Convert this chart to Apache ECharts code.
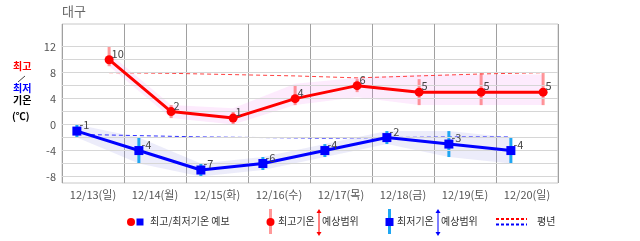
<!DOCTYPE html>
<html><head><meta charset="utf-8">
<script src="https://cdn.jsdelivr.net/npm/echarts@6/dist/echarts.min.js"></script>
<style>html,body{margin:0;padding:0;background:#fff}#c{width:640px;height:241px}</style>
</head><body><div id="c"></div>
<script>
// ---- data ----
const days = ['12/13(일)','12/14(월)','12/15(화)','12/16(수)','12/17(목)','12/18(금)','12/19(토)','12/20(일)'];
const maxTemp = [10, 2, 1, 4, 6, 5, 5, 5];
const maxRangeLow = [9, 1, 0, 3, 5, 3, 3, 3];
const maxRangeHigh = [12, 3, 2, 6, 7, 7, 8, 8];
const maxBandLow = [9, 1, 0, 3, 4.2, 3, 3, 3];
const maxBandHigh = [11, 3, 2.5, 6.3, 7.2, 7.7, 7.7, 7.7];
const minTemp = [-1, -4, -7, -6, -4, -2, -3, -4];
const minRangeLow = [-2, -6, -8, -7, -5, -3, -5, -6];
const minRangeHigh = [0, -2, -6, -5, -3, -1, -1, -2];
const normalMax = [8.0, 7.9, 7.7, 7.5, 7.2, 7.5, 7.8, 8.0];
const normalMin = [-1.5, -1.7, -1.9, -2.0, -2.1, -2.0, -1.9, -1.9];
const yTickLabels = [-8, -4, 0, 4, 8, 12];
const yGridValues = [-8, -6, -4, -2, 0, 2, 4, 6, 8, 10, 12];

// ---- style constants ----
const FONT = '"Noto Sans CJK KR", "Noto Sans", sans-serif';
const MIN_POS = 0.24, MAX_POS = 0.76;   // position of morning-low / afternoon-high inside a day band
const RED = '#ff0000', BLUE = '#0000ff';

const xs = (arr, pos) => arr.map((v, i) => [i + pos, v]);
// band segments: [x0, lo0, hi0, x1, lo1, hi1]
const segs = (lo, hi, pos) => lo.slice(0, -1).map((v, i) => [i + pos, v, hi[i], i + 1 + pos, lo[i + 1], hi[i + 1]]);

function bandItem(color) {
  return function (params, api) {
    const a = api.coord([api.value(0), api.value(2)]);
    const b = api.coord([api.value(3), api.value(5)]);
    const c = api.coord([api.value(3), api.value(4)]);
    const d = api.coord([api.value(0), api.value(1)]);
    return { type: 'polygon', shape: { points: [a, b, c, d] }, style: { fill: color } };
  };
}
function errorBar(color) {
  return function (params, api) {
    const x = api.value(0);
    const p1 = api.coord([x, api.value(1)]);
    const p2 = api.coord([x, api.value(2)]);
    return { type: 'line', shape: { x1: p1[0], y1: p1[1], x2: p2[0], y2: p2[1] },
             style: { stroke: color, lineWidth: 3 } };
  };
}

const chart = echarts.init(document.getElementById('c'), null, { renderer: 'canvas' });
const option = {
  animation: false,
  textStyle: { fontFamily: FONT },
  grid: { left: 62, top: 24, width: 496, height: 159, show: true, borderColor: '#c8c8c8', borderWidth: 1, containLabel: false },
  xAxis: [
    { type: 'category', data: days, boundaryGap: true,
      axisLine: { show: false }, axisTick: { show: false },
      axisLabel: { color: '#555', fontSize: 11, margin: 6, interval: 0, fontFamily: FONT },
      splitLine: { show: true, interval: 0, lineStyle: { color: '#a0a0a0', width: 1 } } },
    { type: 'value', min: 0, max: days.length, show: false }
  ],
  yAxis: { type: 'value', min: -9, max: 15.5,
    axisLine: { show: false }, axisTick: { show: false }, splitLine: { show: false },
    axisLabel: { customValues: yTickLabels, color: '#555', fontSize: 11, margin: 6, fontFamily: FONT } },
  series: [
    // gridlines
    { type: 'line', xAxisIndex: 1, data: [], z: 0, silent: true,
      markLine: { silent: true, symbol: 'none', label: { show: false },
        lineStyle: { color: '#d6d6d6', type: 'solid', width: 1 },
        data: yGridValues.map(v => ({ yAxis: v })) } },
    // bands
    { type: 'custom', xAxisIndex: 1, z: 1, silent: true, renderItem: bandItem('rgba(240,120,240,0.15)'),
      encode: { x: [0, 3], y: [1, 2, 4, 5] }, data: segs(maxBandLow, maxBandHigh, MAX_POS) },
    { type: 'custom', xAxisIndex: 1, z: 1, silent: true, renderItem: bandItem('rgba(110,110,220,0.13)'),
      encode: { x: [0, 3], y: [1, 2, 4, 5] }, data: segs(minRangeLow, minRangeHigh, MIN_POS) },
    // normals
    { type: 'line', xAxisIndex: 1, data: xs(normalMax, MAX_POS), symbol: 'none', z: 3,
      lineStyle: { color: '#ff4040', width: 1, type: [4, 3] } },
    { type: 'line', xAxisIndex: 1, data: xs(normalMin, MIN_POS), symbol: 'none', z: 3,
      lineStyle: { color: '#3030ff', width: 1, type: [4, 3] } },
    // error bars
    { type: 'custom', xAxisIndex: 1, z: 4, renderItem: errorBar('rgba(255,70,70,0.55)'),
      encode: { x: 0, y: [1, 2] }, data: maxTemp.map((v, i) => [i + MAX_POS, maxRangeLow[i], maxRangeHigh[i]]) },
    { type: 'custom', xAxisIndex: 1, z: 4, renderItem: errorBar('#1ea6f2'),
      encode: { x: 0, y: [1, 2] }, data: minTemp.map((v, i) => [i + MIN_POS, minRangeLow[i], minRangeHigh[i]]) },
    // main lines
    { type: 'line', xAxisIndex: 1, data: xs(maxTemp, MAX_POS), z: 5,
      symbol: 'circle', symbolSize: 9, itemStyle: { color: RED }, lineStyle: { color: RED, width: 3 },
      label: { show: true, position: 'right', distance: -2, offset: [0, -6], color: '#444', fontSize: 11, fontFamily: FONT } },
    { type: 'line', xAxisIndex: 1, data: xs(minTemp, MIN_POS), z: 5,
      symbol: 'rect', symbolSize: 9, itemStyle: { color: BLUE }, lineStyle: { color: BLUE, width: 3 },
      label: { show: true, position: 'right', distance: -2, offset: [0, -6], color: '#444', fontSize: 11, fontFamily: FONT } }
  ],
  graphic: [
    { type: 'text', left: 62, top: 5, style: { text: '대구', fill: '#666', font: '13px ' + FONT } },
    { type: 'text', left: 13, top: 61, style: { text: '최고', fill: RED, font: 'bold 10px ' + FONT } },
    { type: 'line', shape: { x1: 18, y1: 82, x2: 25, y2: 76 }, style: { stroke: '#444', lineWidth: 1 } },
    { type: 'text', left: 13, top: 83, style: { text: '최저', fill: BLUE, font: 'bold 10px ' + FONT } },
    { type: 'text', left: 13, top: 95, style: { text: '기온', fill: '#000', font: 'bold 10px ' + FONT } },
    { type: 'text', left: 12, top: 111, style: { text: '(℃)', fill: '#000', font: 'bold 10px ' + FONT } },
    // legend 1
    { type: 'circle', shape: { cx: 131, cy: 222, r: 4 }, style: { fill: RED } },
    { type: 'rect', shape: { x: 136.5, y: 218.5, width: 7, height: 7 }, style: { fill: BLUE } },
    { type: 'text', left: 150, top: 216, style: { text: '최고/최저기온 예보', fill: '#333', font: '10px ' + FONT } },
    // legend 2
    { type: 'line', shape: { x1: 270.5, y1: 209, x2: 270.5, y2: 234 }, style: { stroke: 'rgba(255,70,70,0.55)', lineWidth: 3 } },
    { type: 'circle', shape: { cx: 270.5, cy: 222, r: 4 }, style: { fill: RED } },
    { type: 'text', left: 278, top: 216, style: { text: '최고기온', fill: '#333', font: '10px ' + FONT } },
    { type: 'line', shape: { x1: 319, y1: 211, x2: 319, y2: 234 }, style: { stroke: RED, lineWidth: 1 } },
    { type: 'polygon', shape: { points: [[316.5, 213], [321.5, 213], [319, 209]] }, style: { fill: RED } },
    { type: 'polygon', shape: { points: [[316.5, 232], [321.5, 232], [319, 236]] }, style: { fill: RED } },
    { type: 'text', left: 322, top: 216, style: { text: '예상범위', fill: '#333', font: '10px ' + FONT } },
    // legend 3
    { type: 'line', shape: { x1: 389.5, y1: 209, x2: 389.5, y2: 234 }, style: { stroke: '#1ea6f2', lineWidth: 3 } },
    { type: 'rect', shape: { x: 385.5, y: 218, width: 8, height: 8 }, style: { fill: BLUE } },
    { type: 'text', left: 397, top: 216, style: { text: '최저기온', fill: '#333', font: '10px ' + FONT } },
    { type: 'line', shape: { x1: 438, y1: 211, x2: 438, y2: 234 }, style: { stroke: BLUE, lineWidth: 1 } },
    { type: 'polygon', shape: { points: [[435.5, 213], [440.5, 213], [438, 209]] }, style: { fill: BLUE } },
    { type: 'polygon', shape: { points: [[435.5, 232], [440.5, 232], [438, 236]] }, style: { fill: BLUE } },
    { type: 'text', left: 441, top: 216, style: { text: '예상범위', fill: '#333', font: '10px ' + FONT } },
    // legend 4
    { type: 'line', shape: { x1: 496, y1: 219, x2: 527, y2: 219 }, style: { stroke: RED, lineWidth: 2, lineDash: [3, 2] } },
    { type: 'line', shape: { x1: 496, y1: 224.5, x2: 527, y2: 224.5 }, style: { stroke: BLUE, lineWidth: 2, lineDash: [3, 2] } },
    { type: 'text', left: 537, top: 216, style: { text: '평년', fill: '#333', font: '10px ' + FONT } }
  ]
};
chart.setOption(option);
</script></body></html>
